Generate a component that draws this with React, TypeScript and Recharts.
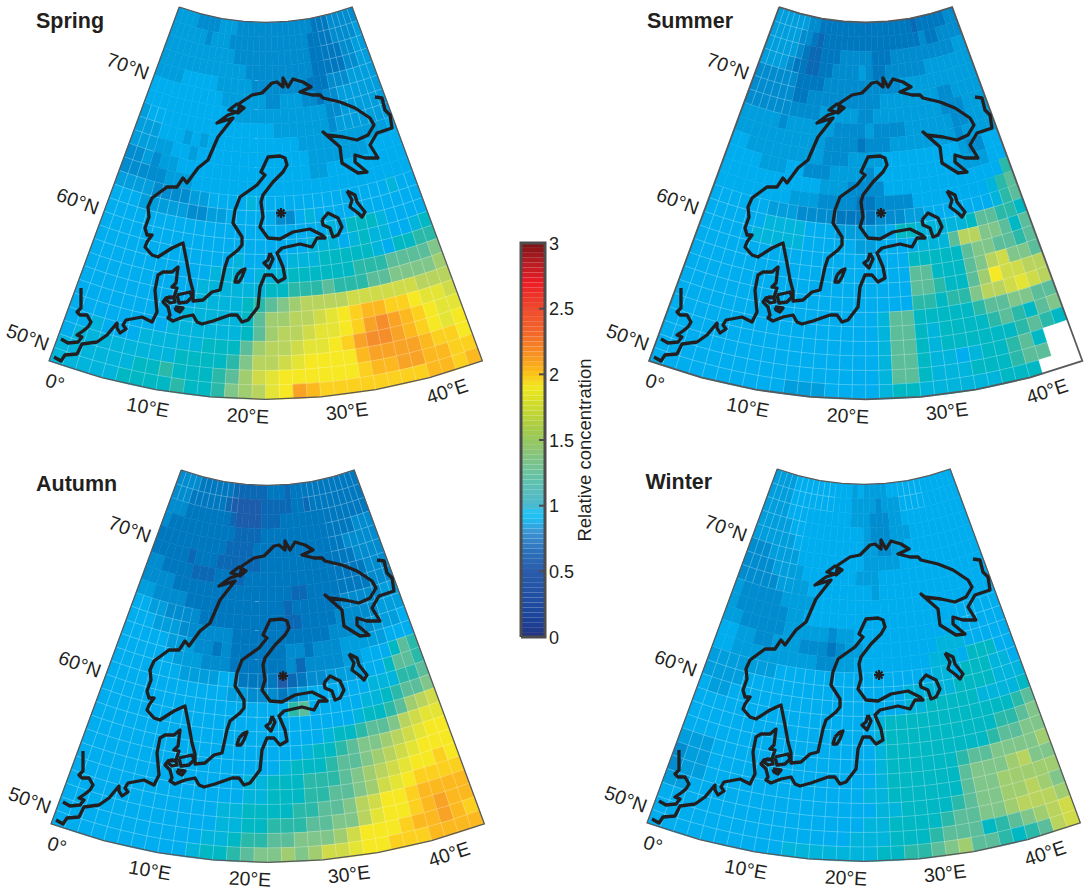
import React from 'react';
import { ScatterChart, Scatter, XAxis, YAxis, BarChart, Bar } from 'recharts';

const FONT = '"Liberation Sans", Arial, sans-serif';
const INK = '#231f20';

// one string per latitude row (75N at the top), one char per 1.25 degree cell; value = base36 digit / 10
const springRows = [
  '88887777888777777777777766677777','88888878887777777777777666677778','88888888888777777777777666667788','88888888888887777777777666667788',
  '88889999988888777777776667778888','99999999998888887788877677888888','99999999999988888888888877888888','89999999999999999888888878888888',
  '88899989899999999999888888888889','88888998999999999999988888889999','77878899999999999999988999999999','77777888999999999999999999999999',
  '88887777889999a99999999999999a99','99988888778899999779a99999999999','9999999999999999999999a9bbba9999','99999999999999999999aaa9abaa99ab',
  '9999999999999a9999aaabbbbba9bbcc','99999999999aaa9aaabbbbbbcccdddde','9999999999aaaaaabbcccdcccddeeeef','9999999999aaaabcdefgggghhhhhhggg',
  '999999999aaaaabdffgghijkllkkjiih','99999999aaaaaabdfgghiijkmnmlkjii','99a999aaaaabbbdfgghiijkmnnmlkjij','9aaaaaaaabbbbcegghijjjjlmmmmlkkj',
  'aaaaaabbcbbbcdfhijjjjjjkllmmllkk','aaaaabbbbcbbcefgijmlkkkkkkkkllkl',
];
const summerRows = [
  '88888877666666666666666656666677','88888776566666666666666667667777','88888765566677777666777777777788','88887665566777787667777778888888',
  '77777766667777777777788888888888','77777766777777777788888888778888','77777777778888877888888888777888','88888788888877778777788888877888',
  '88888888888777767778888888878888','99888888888777888899999999987799','99998889977788887999999999888899','9999999999988877779999999999999c',
  '99999999888777766777799999999acd','99999988877776666777889999999acd','999999aaaa999888889bbaaaaabddccb','99999aaaaa99999889999aaadggeedbd',
  '99999999999999999999bbbbbdeeddcd','99999999999999999999ddbbbdegheed','99999999999999999999ddcbbdfjhhgg','99999999999999999999ccbccegghihg',
  '99999999999999999addbbbbbcddeedd','99999999999999999addbabbbbcdcbde','99999999999999999addbabbbbbbcdcb','99999999999999999addbaa9abbcdb--',
  '99999999999999999addbaaabbbcdd--','99999999998889999abbaaaaaabbb---',
];
const autumnRows = [
  '77776666665555556665666666666666','77766666654444455555665666666666','77766666665444455566666666666666','76666666666555566666666666666777',
  '66666666665555666666666666677777','66666566655555566666666666667777','77666655566556666666666666666777','77776666666666666665566666666777',
  '88777766666666666656666667777788','99887777666666666655666677777888','99988877777766666666666777778889','99999888776766666677677788888999',
  '99999988877766666675777788999bdc','9999999888899666645677888899bddc','99999999999988777678999999aaaccd','999999999999999999cd99999aabcdde',
  '999999999999999999999999abbcdfgh','999999999999999999999abbcddeghii','9999999999999999999abbcdeefghijj','99999999999999999abbbcddefghijjj',
  '99999999999999aabbbcccdefghijjkj','99999999999999aabbbccddefhijkkkk','999999999999aabbbbccddeghjjkllll','999999999999aabbcccddeegijjklmll',
  '99999999999aabccddeeefhjjjkllmlk','9999999999abbcdeefefhhijjkkkllll',
];
const winterRows = [
  '88889999999999898888999999999999','88889999999999888878889999999999','88889999999999888777889999999999','88888999999999998777888999999999',
  '88888899999999998877889999999999','77788889999999998888899999999999','77778888999999988899999999999999','77777888899999999899999999999999',
  '87777788889999999999999999999999','87777778899999999999999999999999','88777778888878899999999999999999','998877888777678899999999aaa99999',
  '99888888888778899999999aaa9bbb99','88888889999999999999999aa9bbbaa9','88889999999999999999aaaaabbbbaaa','98899999999999999999aabbbbbaaaab',
  '99999999999999999abbbbbbbbbbbbcd','99999999999999999abbbbbbbbbbccde','99999999999999999abbbbbbbbbcddee','88899999999999999abbbbbbcddeeeef',
  '78899999999999999abbbbbbdeeefgee','7889999999999999aabbbbbbdeefffff','88999999999999999aabbbbcdeeffgfe','9999999999999999aabbbbcddeefgggf',
  '999999999999999aaabbbcdddbcdefgh','9999999999aaaaaaabbccdefddcbcdgh',
];

// row index where the fine white lines start, then extra patches [rowFrom,rowTo,colFrom,colTo]
const springLines = { from: 12, patches: [[0, 7, 25, 31], [7, 11, 0, 2]] };
const summerLines = { from: 13, patches: [[0, 6, 0, 5]] };
const autumnLines = { from: 13, patches: [[0, 1, 0, 10], [0, 1, 22, 31], [2, 8, 25, 31], [9, 12, 0, 6], [9, 12, 27, 31]] };
const winterLines = { from: 13, patches: [[0, 1, 0, 10], [0, 1, 22, 25], [2, 7, 0, 6], [9, 12, 27, 31]] };

const cellPalette: Record<number, string> = {
  3: '#1f55a5', 4: '#1c5cab', 5: '#0a68b5', 6: '#0078c0', 7: '#008ccf', 8: '#009edd', 9: '#00aeef',
  10: '#00b4dc', 11: '#00b7c4', 12: '#2ab9a9', 13: '#5bbd9a', 14: '#80c68a', 15: '#a0cd70', 16: '#b8d45e', 17: '#cfdb48',
  18: '#e3e436', 19: '#f6e822', 20: '#fbd01f', 21: '#fbb81f', 22: '#f8a325', 23: '#f58e2a', 24: '#f07c2e',
};

const barStops: [number, string][] = [
  [0, '#27357f'], [0.1, '#1c3f94'], [0.3, '#1f4fa3'], [0.5, '#2a5caa'], [0.65, '#2b70ba'], [0.8, '#3d95d3'], [0.9, '#1fbdf0'], [0.95, '#27c4f4'],
  [1, '#4cb8cf'], [1.2, '#62c2ac'], [1.4, '#88c47a'], [1.6, '#a9cc45'], [1.8, '#d7df26'], [1.9, '#f0e81f'], [2, '#fcc419'], [2.1, '#f9a11f'],
  [2.3, '#f26a28'], [2.5, '#ee4a2f'], [2.7, '#ed1c24'], [2.85, '#b51c23'], [3, '#7a1315'],
];
const barTicks = [0, 0.5, 1, 1.5, 2, 2.5, 3];
const barFrame = [{ x: 0, y: 0 }, { x: 1, y: 0 }, { x: 1, y: 3 }, { x: 0, y: 3 }, { x: 0, y: 0 }];

const coastMain = [
  [54,357],[61,361],[65,355],[77,354],[82,344],[97,342],[107,335],[117,323],[117,328],[120,333],[126,329],[123,325],[126,320],[142,317],[152,322],[157,312],[155,290],[158,275],[163,272],[172,272],[178,267],[176,283],[172,287],[177,288],[174,297],[166,298],[163,302],[168,307],[170,315],[168,318],[173,321],[183,317],[193,315],[197,322],[202,324],[213,321],[230,315],[237,315],[242,322],[248,320],[258,307],[260,287],[265,275],[272,275],[278,282],[285,278],[283,267],[277,253],[282,248],[300,244],[312,247],[317,238],[325,238],[322,235],[310,229],[293,232],[280,239],[268,238],[260,227],[263,217],[261,202],[263,195],[273,182],[283,172],[287,165],[285,158],[280,156],[268,157],[261,172],[265,175],[257,185],[240,197],[235,210],[233,223],[242,237],[242,245],[238,250],[228,258],[225,267],[220,290],[212,292],[203,300],[193,301],[193,291],[190,280],[187,263],[183,243],[172,248],[158,257],[152,255],[145,247],[147,242],[152,235],[147,235],[145,228],[149,217],[148,207],[152,198],[167,187],[177,187],[183,178],[187,183],[198,168],[208,160],[218,137],[233,118],[217,123],[228,115],[237,112],[229,110],[237,104],[244,108],[238,113],[240,103],[252,95],[262,93],[272,83],[277,82],[283,87],[283,78],[288,87],[293,79],[303,82],[311,87],[300,92],[312,95],[320,95],[323,98],[340,102],[355,108],[370,118],[374,125],[368,135],[357,140],[343,137],[327,135],[323,132],[332,140],[340,147],[342,163],[358,173],[367,172],[355,162],[355,155],[365,158],[378,158],[370,145],[377,133],[392,128],[390,115],[385,110],[382,98],[375,97],
];
const coastUK = [[81,288],[81,308],[77,312],[80,315],[87,315],[91,322],[88,327],[83,331],[77,335],[82,337],[78,342],[68,343],[61,339]];
const coastGotland = [[237,275],[242,270],[245,269],[242,277],[239,282],[235,282],[237,275]];
const coastSaaremaa = [[270,253],[273,259],[269,268],[264,263],[268,260],[270,253]];
const coastZealand = [[177,295],[190,292],[192,297],[187,302],[179,303],[177,295]];
const coastFyn = [[168,297],[174,298],[175,302],[170,303],[166,300],[168,297]];
const coastLolland = [[175,307],[183,308],[180,312],[176,310],[175,307]];
const coastLadoga = [[322,220],[328,213],[338,218],[342,227],[338,235],[333,237],[330,228],[323,225],[322,220]];
const coastOnega = [[347,191],[355,195],[357,202],[365,212],[362,217],[358,213],[350,207],[352,200],[348,193],[347,191]];
const coastPieces = [coastMain, coastUK, coastGotland, coastSaaremaa, coastZealand, coastFyn, coastLolland, coastLadoga, coastOnega];
const sitePoint = [[281, 213]];

const gridLabels: [string, number, number, number][] = [
  ['70°N', 128, 66, 20], ['60°N', 78, 201, 20], ['50°N', 28, 337, 20],
  ['0°', 55, 382, 18], ['10°E', 148, 407, 10], ['20°E', 248, 415.5, 3], ['30°E', 347, 411, -7], ['40°E', 447, 391, -18],
];

const W = 485, H = 430;
const APEX_X = 265.7, APEX_Y = -228, R_TOP = 250.4, R_PER_DEG = 14.5, TOP_LAT = 75, LON_STEP = 1.25, N_COL = 32;
const project = (lon: number, lat: number) => {
  const t = ((lon - 20) * 1.01 * Math.PI) / 180;
  const r = R_TOP + (TOP_LAT - lat) * R_PER_DEG;
  return { x: APEX_X + r * Math.sin(t), y: APEX_Y + r * Math.cos(t) };
};

const buildCells = (rows: string[], lines: { from: number; patches: number[][] }) => {
  const out: any[] = [];
  rows.forEach((row, i) => {
    for (let j = 0; j < N_COL; j++) {
      const ch = row[j] ?? row[row.length - 1];
      const lat = TOP_LAT - i, lon = j * LON_STEP;
      const c = project(lon + LON_STEP / 2, lat - 0.5);
      const corners = [project(lon, lat), project(lon + LON_STEP, lat), project(lon + LON_STEP, lat - 1), project(lon, lat - 1)]
        .map((p) => [p.x - c.x, p.y - c.y]);
      const lined = i >= lines.from || lines.patches.some(([a, b, d, e]) => i >= a && i <= b && j >= d && j <= e);
      const value = ch === '-' ? null : parseInt(ch, 36);
      out.push({ x: c.x, y: c.y, corners, lined, value });
    }
  });
  return out;
};

const CellShape = (p: any) => {
  const d = p.payload;
  const pts = d.corners.map(([a, b]: number[]) => `${p.cx + a},${p.cy + b}`).join(' ');
  const fill = d.value == null ? '#ffffff' : cellPalette[d.value] ?? '#00aeef';
  return <polygon points={pts} fill={fill} stroke={fill} strokeWidth={0.5} />;
};
const CellLines = (p: any) => {
  const d = p.payload;
  if (!d.lined || d.value == null) return <g />;
  const pts = d.corners.map(([a, b]: number[]) => `${p.cx + a},${p.cy + b}`).join(' ');
  return <polygon points={pts} fill="none" stroke="#ffffff" strokeOpacity={0.2} strokeWidth={0.6} />;
};
const NoDot = () => <g />;
const Asterisk = (p: any) => (
  <g stroke={INK} strokeWidth={2.2}>
    {[0, 45, 90, 135].map((a) => {
      const dx = 5 * Math.cos((a * Math.PI) / 180), dy = 5 * Math.sin((a * Math.PI) / 180);
      return <line key={a} x1={p.cx - dx} y1={p.cy - dy} x2={p.cx + dx} y2={p.cy + dy} />;
    })}
  </g>
);
const LabelDot = (p: any) => {
  const d = p.payload;
  return (
    <text x={p.cx} y={p.cy} textAnchor="middle" dominantBaseline="central" transform={`rotate(${d.rot} ${p.cx} ${p.cy})`}
      fontFamily={FONT} fontSize={19.5} fill={INK}>{d.text}</text>
  );
};
const TitleDot = (p: any) => (
  <text x={p.cx} y={p.cy} fontFamily={FONT} fontSize={21.5} fontWeight="bold" fill={INK}>{p.payload.text}</text>
);

const outline = [
  ...[0, 5, 10, 15, 20, 25, 30, 35, 40].map((lon) => project(lon, 75)),
  ...[40, 35, 30, 25, 20, 15, 10, 5, 0].map((lon) => project(lon, 49)),
];
const outlineClosed = [...outline, outline[0]];
const labelData = gridLabels.map(([text, x, y, rot]) => ({ text, x, y, rot }));

const panels = [
  { name: 'Spring', rows: springRows, lines: springLines, left: 0, top: 0, tx: 36, ty: 28, frame: 1.3 },
  { name: 'Summer', rows: summerRows, lines: summerLines, left: 600, top: 0, tx: 47, ty: 28, frame: 1.8 },
  { name: 'Autumn', rows: autumnRows, lines: autumnLines, left: 2, top: 463, tx: 34, ty: 28, frame: 1.3 },
  { name: 'Winter', rows: winterRows, lines: winterLines, left: 597.5, top: 462, tx: 47.5, ty: 27, frame: 1.3 },
];

const MapPanel = ({ panel }: { panel: (typeof panels)[number] }) => {
  const cells = buildCells(panel.rows, panel.lines);
  return (
    <div style={{ position: 'absolute', left: panel.left, top: panel.top }}>
      <ScatterChart width={W} height={H} margin={{ top: 0, right: 0, bottom: 0, left: 0 }}>
        <XAxis type="number" dataKey="x" domain={[0, W]} hide />
        <YAxis type="number" dataKey="y" domain={[0, H]} reversed hide />
        <Scatter data={cells} shape={CellShape} isAnimationActive={false} />
        <Scatter data={cells} shape={CellLines} isAnimationActive={false} />
        <Scatter data={outlineClosed} shape={NoDot} line={{ stroke: '#58595b', strokeWidth: panel.frame, fill: 'none' }} isAnimationActive={false} />
        {coastPieces.map((piece, k) => (
          <Scatter key={k} data={piece.map(([x, y]) => ({ x, y }))} shape={NoDot}
            line={{ stroke: INK, strokeWidth: 3.3, strokeLinejoin: 'round', fill: 'none' }} isAnimationActive={false} />
        ))}
        <Scatter data={sitePoint.map(([x, y]) => ({ x, y }))} shape={Asterisk} isAnimationActive={false} />
        <Scatter data={labelData} shape={LabelDot} isAnimationActive={false} />
        <Scatter data={[{ x: panel.tx, y: panel.ty, text: panel.name }]} shape={TitleDot} isAnimationActive={false} />
      </ScatterChart>
    </div>
  );
};

const N_STEPS = 80;
const barColor = (v: number) => {
  let k = 0;
  while (k < barStops.length - 2 && v > barStops[k + 1][0]) k++;
  const [a, ca] = barStops[k], [b, cb] = barStops[k + 1];
  const t = Math.min(1, Math.max(0, (v - a) / (b - a)));
  const ch = (c: string, i: number) => parseInt(c.slice(1 + 2 * i, 3 + 2 * i), 16);
  return `rgb(${[0, 1, 2].map((i) => Math.round(ch(ca, i) + (ch(cb, i) - ch(ca, i)) * t)).join(',')})`;
};
const barRow: Record<string, number | string> = { name: 'scale' };
for (let i = 0; i < N_STEPS; i++) barRow[`s${i}`] = 3 / N_STEPS;

const BarTick = (p: any) => (
  <g>
    <line x1={p.x - 6} x2={p.x} y1={p.y} y2={p.y} stroke="#4d4d4d" strokeWidth={2} />
    <text x={p.x + 4} y={p.y + 6.5} fontFamily={FONT} fontSize={18} fill={INK}>{p.payload.value}</text>
  </g>
);

const ColorBar = () => (
  <div style={{ position: 'absolute', left: 500, top: 230, width: 100, height: 420 }}>
    <div style={{ position: 'absolute', left: 0, top: 0 }}>
      <BarChart width={100} height={420} data={[barRow]} margin={{ top: 13, right: 55, bottom: 13, left: 21 }} barCategoryGap={0}>
        <XAxis dataKey="name" hide />
        <YAxis hide type="number" domain={[0, 3]} />
        {Array.from({ length: N_STEPS }, (_, i) => (
          <Bar key={i} dataKey={`s${i}`} stackId="scale" fill={barColor(((i + 0.5) * 3) / N_STEPS)} stroke="none" isAnimationActive={false} />
        ))}
      </BarChart>
    </div>
    <div style={{ position: 'absolute', left: 0, top: 0 }}>
      <ScatterChart width={100} height={420} margin={{ top: 13, right: 0, bottom: 13, left: 21 }}>
        <XAxis type="number" dataKey="x" domain={[0, 1]} hide />
        <YAxis orientation="right" width={55} type="number" dataKey="y" domain={[0, 3]} ticks={barTicks} axisLine={false} tickLine={false} tickSize={0} tickMargin={0} tick={BarTick}
          interval={0}
          label={{ value: 'Relative concentration', angle: -90, position: 'insideRight', dx: -11, dy: 10, style: { fontFamily: FONT, fontSize: 18.5, fill: INK, textAnchor: 'middle' } }} />
        <Scatter data={barFrame} shape={NoDot} line={{ stroke: '#4d4d4d', strokeWidth: 3, fill: 'none' }} isAnimationActive={false} />
      </ScatterChart>
    </div>
  </div>
);

export default function App() {
  return (
    <div style={{ position: 'absolute', left: 0, top: 0, width: 1085, height: 890, overflow: 'hidden', background: '#fff' }}>
      {panels.map((p) => <MapPanel key={p.name} panel={p} />)}
      <ColorBar />
    </div>
  );
}
